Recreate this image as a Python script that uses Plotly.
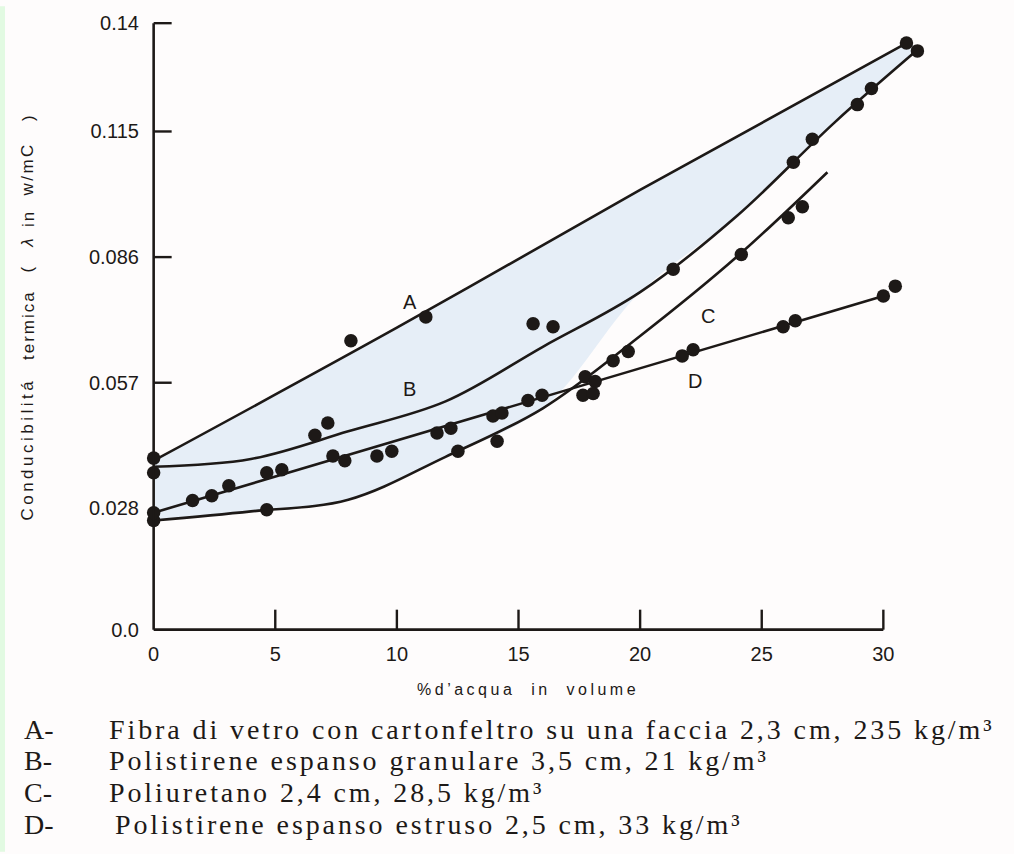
import json
import plotly.graph_objects as go

# ---------------- data ----------------
# smooth curves drawn through the data
A_line_x = [0, 10.0, 20.0, 30.95]
A_line_y = [0.0390, 0.0697, 0.1015, 0.1354]
B_line_x = [0, 4.0, 8.0, 12.0, 16.0, 20.0, 24.0, 28.0, 31.5]
B_line_y = [0.0376, 0.0394, 0.0458, 0.0527, 0.0653, 0.0779, 0.0956, 0.1171, 0.1343]
C_line_x = [0, 4.0, 8.0, 12.0, 16.0, 20.0, 24.0, 27.7]
C_line_y = [0.0252, 0.0273, 0.0300, 0.0399, 0.0511, 0.0678, 0.0862, 0.1056]
D_line_x = [0, 30.0]
D_line_y = [0.0270, 0.0770]

# measured points
A_pts_x = [0, 8.11, 11.19, 30.95]
A_pts_y = [0.0396, 0.0667, 0.0722, 0.1354]
B_pts_x = [0, 6.63, 7.16, 15.60, 16.42, 21.36, 26.30, 27.08, 28.93, 29.51, 31.40]
B_pts_y = [0.0362, 0.0449, 0.0477, 0.0706, 0.0699, 0.0832, 0.1079, 0.1132, 0.1212, 0.1249, 0.1336]
C_pts_x = [0, 4.65, 12.51, 14.12, 17.74, 17.65, 18.89, 19.51, 24.16, 26.09, 26.67]
C_pts_y = [0.0252, 0.0277, 0.0412, 0.0435, 0.0584, 0.0541, 0.0621, 0.0642, 0.0866, 0.0951, 0.0976]
D_pts_x = [0, 1.60, 2.39, 3.09, 4.65, 5.27, 7.37, 7.86, 9.18, 9.79, 11.65, 12.22, 13.95, 14.32,
           15.39, 15.97, 18.15, 18.07, 21.73, 22.18, 25.88, 26.38, 30.00, 30.49]
D_pts_y = [0.0270, 0.0298, 0.0309, 0.0332, 0.0362, 0.0369, 0.0401, 0.0390, 0.0401, 0.0412, 0.0454, 0.0465,
           0.0493, 0.0500, 0.0529, 0.0541, 0.0573, 0.0545, 0.0632, 0.0646, 0.0699, 0.0713, 0.0770, 0.0793]

# curve letters
curve_names = ["A", "B", "C", "D"]
curve_label_x = [10.53, 10.53, 22.8, 22.26]
curve_label_y = [0.0756, 0.0555, 0.0724, 0.0575]

x_tick_vals = [0, 5, 10, 15, 20, 25, 30]
x_tick_text = ["0", "5", "10", "15", "20", "25", "30"]
y_tick_vals = [0, 0.028, 0.057, 0.086, 0.115, 0.14]
y_tick_text = ["0.0", "0.028", "0.057", "0.086", "0.115", "0.14"]
y_tick_marks = [0.057, 0.086, 0.115, 0.14]
x_tick_marks = [5, 10, 15, 20, 25, 30]

x_title = "%d’acqua  in  volume"
y_title_words = ["Conducibilitá", "termica", "(", "<i>λ</i>", "in", "w/mC", ")"]

legend_keys = ["A-", "B-", "C-", "D-"]
legend_texts = [
    "Fibra di vetro con cartonfeltro su una faccia 2,3 cm, 235 kg/m³",
    "Polistirene espanso granulare 3,5 cm, 21 kg/m³",
    "Poliuretano 2,4 cm, 28,5 kg/m³",
    "Polistirene espanso estruso 2,5 cm, 33 kg/m³",
]

# ---------------- layout geometry ----------------
W, H = 1014, 854
L, R, T, B = 150, 82, 15, 220
PW, PH = W - L - R, H - T - B


def px(xp):
    return (xp - L) / PW


def py(yp):
    return 1 - (yp - T) / PH


INK = "#1d1917"
FILL = "#e6eef7"
BG = "#fefcfc"
SMOOTH = 1.0

fig = go.Figure()

# shaded band: upper boundary = curve A, lower boundary = C (left part) then B (right part)
k_c = C_line_x.index(16.0) + 1
k_b = B_line_x.index(20.0)
low_x = C_line_x[:k_c] + B_line_x[k_b:]
low_y = C_line_y[:k_c] + B_line_y[k_b:]
fig.add_trace(go.Scatter(x=low_x, y=low_y, mode="lines", line=dict(width=0, shape="spline", smoothing=SMOOTH),
                         hoverinfo="skip", showlegend=False))
fig.add_trace(go.Scatter(x=A_line_x, y=A_line_y, mode="lines", fill="tonexty", fillcolor=FILL,
                         line=dict(width=0, shape="spline", smoothing=SMOOTH), hoverinfo="skip", showlegend=False))

for lx, ly in [(A_line_x, A_line_y), (B_line_x, B_line_y), (C_line_x, C_line_y), (D_line_x, D_line_y)]:
    fig.add_trace(go.Scatter(x=lx, y=ly, mode="lines",
                             line=dict(color=INK, width=2.6, shape="spline", smoothing=SMOOTH),
                             showlegend=False))

for name, xs, ys in [("A", A_pts_x, A_pts_y), ("B", B_pts_x, B_pts_y), ("C", C_pts_x, C_pts_y), ("D", D_pts_x, D_pts_y)]:
    fig.add_trace(go.Scatter(x=xs, y=ys, mode="markers", name=name, cliponaxis=False,
                             marker=dict(color=INK, size=13.5, line=dict(width=0)), showlegend=False))

shapes = []
# axis lines
shapes.append(dict(type="line", xref="x", yref="y", x0=0, x1=x_tick_vals[-1], y0=0, y1=0,
                   line=dict(color=INK, width=2.6)))
shapes.append(dict(type="line", xref="x", yref="y", x0=0, x1=0, y0=0, y1=y_tick_vals[-1],
                   line=dict(color=INK, width=2.6)))
# tick marks pointing into the plot
for v in y_tick_marks:
    shapes.append(dict(type="line", xref="x", yref="y", xsizemode="pixel", xanchor=0, x0=0, x1=18,
                       y0=v, y1=v, line=dict(color=INK, width=2.4)))
for v in x_tick_marks:
    shapes.append(dict(type="line", xref="x", yref="y", ysizemode="pixel", yanchor=0, y0=0, y1=20,
                       x0=v, x1=v, line=dict(color=INK, width=2.4)))
# pale green strip on the left edge of the page
shapes.append(dict(type="rect", xref="paper", yref="paper", x0=px(0), x1=px(5), y0=py(H), y1=py(0),
                   line=dict(width=0), fillcolor="#e2fae2", layer="below"))

annotations = []
for n, xv, yv in zip(curve_names, curve_label_x, curve_label_y):
    annotations.append(dict(x=xv, y=yv, xref="x", yref="y", text=n, showarrow=False,
                            font=dict(family="Liberation Sans", size=20, color=INK)))

# y-axis title, word by word (bottom to top)
y_word_centers = [447, 322, 266, 240, 215, 165, 113]
for wtxt, yc in zip(y_title_words, y_word_centers):
    annotations.append(dict(x=px(28), y=py(yc), xref="paper", yref="paper", text=wtxt, textangle=-90,
                            showarrow=False, xanchor="center", yanchor="middle",
                            font=dict(family="Liberation Sans", size=17, color=INK)))

annotations.append(dict(x=px(528), y=py(690), xref="paper", yref="paper", text=x_title, showarrow=False,
                        xanchor="center", yanchor="middle",
                        font=dict(family="Liberation Sans", size=16, color=INK)))

row_y = [730, 762, 794, 826]
text_x = [107, 107, 107, 113]
for key, txt, ry, tx in zip(legend_keys, legend_texts, row_y, text_x):
    annotations.append(dict(x=px(22), y=py(ry), xref="paper", yref="paper", text=key, showarrow=False,
                            xanchor="left", yanchor="middle", align="left",
                            font=dict(family="Liberation Serif", size=28, color=INK)))
    annotations.append(dict(x=px(tx), y=py(ry), xref="paper", yref="paper", text=txt, showarrow=False,
                            xanchor="left", yanchor="middle", align="left",
                            font=dict(family="Liberation Serif", size=28, color=INK)))

fig.update_layout(
    width=W, height=H,
    margin=dict(l=L, r=R, t=T, b=B, pad=0),
    paper_bgcolor=BG, plot_bgcolor=BG,
    showlegend=False,
    shapes=shapes,
    annotations=annotations,
    font=dict(family="Liberation Sans", color=INK),
    xaxis=dict(range=[-0.15, 32], tickvals=x_tick_vals, ticktext=x_tick_text, ticks="",
               showline=False, showgrid=False, zeroline=False, ticklabelstandoff=6,
               tickfont=dict(family="Liberation Sans", size=20, color=INK)),
    yaxis=dict(range=[-0.001, 0.1405], tickvals=y_tick_vals, ticktext=y_tick_text, ticks="",
               showline=False, showgrid=False, zeroline=False, ticklabelstandoff=10,
               tickfont=dict(family="Liberation Sans", size=20, color=INK)),
)

spacing_rules = [["Conducibilit", "3.5px"], ["termica", "2px"], ["w/mC", "2.5px"], ["in", "2px"],
                 ["%d", "3.5px"], ["Fibra", "2.9px"], ["Polistirene", "2.9px"], ["Poliuretano", "2.9px"]]
post = """
var gd = document.getElementById('{plot_id}');
var rules = RULES;
function applySpacing(){
  gd.querySelectorAll('text.annotation-text').forEach(function(t){
    var c = t.textContent;
    for (var i = 0; i < rules.length; i++) {
      if (c.indexOf(rules[i][0]) === 0) { t.style.letterSpacing = rules[i][1]; break; }
    }
  });
}
applySpacing();
if (gd.on) { gd.on('plotly_afterplot', applySpacing); }
""".replace("RULES", json.dumps(spacing_rules))

fig.write_html("out.html", post_script=post, config={"displayModeBar": False})
